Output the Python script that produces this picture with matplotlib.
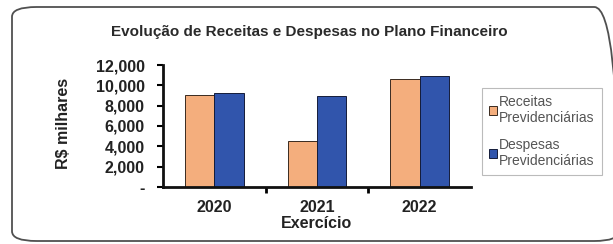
import matplotlib.pyplot as plt
import numpy as np
from matplotlib.patches import FancyBboxPatch

# dados
anos = ["2020", "2021", "2022"]
receitas = [9050, 4550, 10600]
despesas = [9250, 8950, 10900]
yticks = [0, 2000, 4000, 6000, 8000, 10000, 12000]

plt.rcParams['font.family'] = ['Liberation Sans', 'DejaVu Sans']

W, H = 613, 244
fig = plt.figure(figsize=(W / 100, H / 100), dpi=100)
ax = fig.add_axes([163 / W, 1 - 187 / H, 308 / W, 122 / H])

# moldura arredondada (lado direito fica fora da imagem)
borda = FancyBboxPatch((12 / W, 3 / H), 0.99, 1 - 10 / H,
                       boxstyle="round,pad=0,rounding_size=0.04",
                       transform=fig.transFigure, fill=False,
                       edgecolor="#505050", linewidth=1.3, clip_on=False)
fig.patches.append(borda)

x = np.arange(len(anos))
w = 0.287
ax.bar(x - w / 2, receitas, w, color="#F4AE7D", edgecolor="#3a2a20",
       linewidth=0.7, label="Receitas\nPrevidenciárias")
ax.bar(x + w / 2, despesas, w, color="#3155AC", edgecolor="#141c3a",
       linewidth=0.7, label="Despesas\nPrevidenciárias")

ax.set_xlim(-0.5, 2.5)
ax.set_ylim(0, 12000)
ax.set_yticks(yticks)
ax.set_yticklabels(["-" if v == 0 else f"{v:,}" for v in yticks],
                   fontsize=11.5, fontweight="bold", color="#222222")
ax.set_xticks(x)
ax.set_xticklabels(anos, fontsize=11.5, fontweight="bold", color="#222222")
ax.set_xticks([0.5, 1.5], minor=True)
ax.tick_params(axis="x", which="major", length=0, pad=9)
ax.tick_params(axis="x", which="minor", length=4, width=2, direction="out")
ax.tick_params(axis="y", length=4, width=1.5, direction="out", pad=9)

for s in ["top", "right"]:
    ax.spines[s].set_visible(False)
for s in ["left", "bottom"]:
    ax.spines[s].set_linewidth(2)
    ax.spines[s].set_color("#111111")

ax.set_xlabel("Exercício", fontsize=11.5, fontweight="bold", labelpad=1,
              color="#222222")
ax.set_ylabel("R$ milhares", fontsize=11.5, fontweight="bold", color="#222222")
ax.yaxis.set_label_coords(71 / W, 1 - 123 / H, transform=fig.transFigure)

fig.text(309 / W, 1 - 32 / H, "Evolução de Receitas e Despesas no Plano Financeiro",
         ha="center", va="center", fontsize=11, fontweight="bold", color="#2a2a2a")

leg = ax.legend(loc="upper left", bbox_to_anchor=(482 / W, 1 - 88 / H),
                bbox_transform=fig.transFigure, fontsize=10, frameon=True,
                fancybox=False, edgecolor="#aaaaaa", handlelength=0.6,
                handleheight=0.6, handletextpad=0.15, borderpad=0.5,
                labelspacing=0.9, labelcolor="#555555", borderaxespad=0)
leg.get_frame().set_linewidth(0.8)

fig.savefig("out.png", dpi=100)
